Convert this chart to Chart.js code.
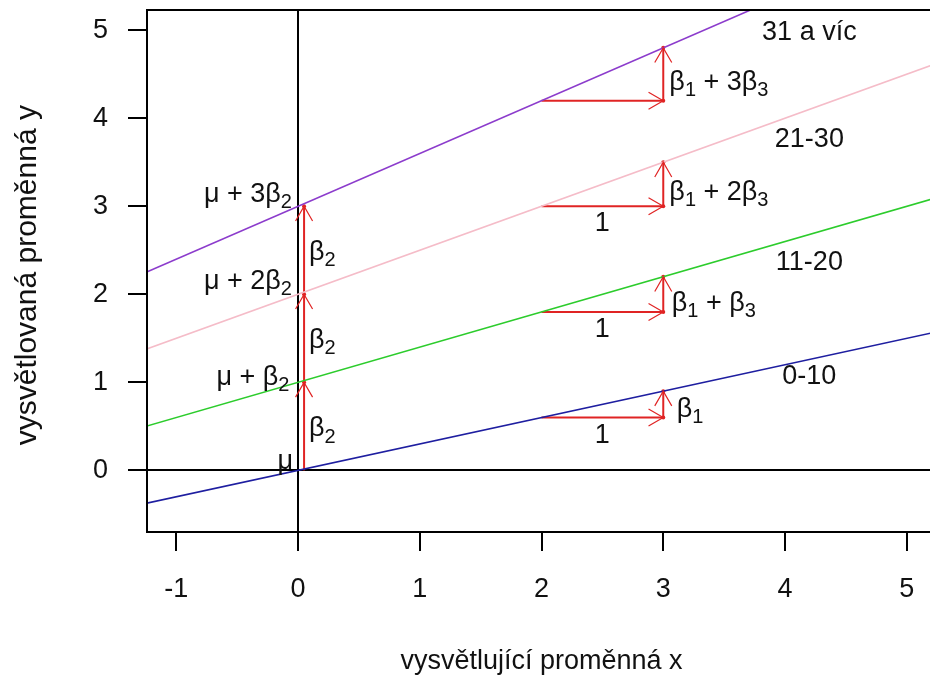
<!DOCTYPE html>
<html>
<head>
<meta charset="utf-8">
<script src="https://cdn.jsdelivr.net/npm/chart.js"></script>
<style>
  body { margin: 0; overflow: hidden; background: #fff; }
  #wrap { width: 940px; height: 675px; }
</style>
</head>
<body>
<div id="wrap"><canvas id="plot" width="940" height="675"></canvas></div>
<script>
// groups (regression lines): y = intercept + slope * x
const groups = ['0-10', '11-20', '21-30', '31 a víc'];
const intercepts = [0, 1, 2, 3];
const slopes = [0.3, 0.4, 0.5, 0.6];
const lineColors = ['#1e1ea0', '#2ccc2c', '#f5bcc8', '#8c3ccc'];
const groupLabelX = [4.2, 4.2, 4.2, 4.2];
const groupLabelY = [1.07, 2.36, 3.76, 4.97];

// axes
const xTicks = [-1, 0, 1, 2, 3, 4, 5];
const yTicks = [0, 1, 2, 3, 4, 5];
const xRange = [-1.24, 5.24];
const yRange = [-0.7, 5.23];

// red arrows: start -> end
const arrowX0 = [0.05, 0.05, 0.05, 2, 2, 2, 2, 3, 3, 3, 3];
const arrowY0 = [0, 1, 2, 0.6, 1.8, 3, 4.2, 0.6, 1.8, 3, 4.2];
const arrowX1 = [0.05, 0.05, 0.05, 3, 3, 3, 3, 3, 3, 3, 3];
const arrowY1 = [1, 2, 3, 0.6, 1.8, 3, 4.2, 0.9, 2.2, 3.5, 4.8];

// text annotations ("_" = next char is a subscript)
const noteText = ['μ', 'μ + β_2', 'μ + 2β_2', 'μ + 3β_2', 'β_2', 'β_2', 'β_2',
  '1', '1', '1', 'β_1', 'β_1 + β_3', 'β_1 + 2β_3', 'β_1 + 3β_3'];
const noteX = [-0.04, -0.07, -0.05, -0.05, 0.09, 0.09, 0.09, 2.5, 2.5, 2.5, 3.11, 3.07, 3.05, 3.05];
const noteY = [0.1, 1.05, 2.15, 3.13, 0.47, 1.47, 2.47, 0.4, 1.6, 2.8, 0.69, 1.9, 3.16, 4.41];
const noteAlign = ['right', 'right', 'right', 'right', 'left', 'left', 'left',
  'center', 'center', 'center', 'left', 'left', 'left', 'left'];

const FONT = '"Liberation Sans", Arial, sans-serif';
const red = '#e02424';

const datasets = [];
groups.forEach((g, i) => {
  datasets.push({
    label: g,
    data: [
      { x: -2, y: intercepts[i] - 2 * slopes[i] },
      { x: 6, y: intercepts[i] + 6 * slopes[i] }
    ],
    borderColor: lineColors[i],
    borderWidth: 1.6,
    pointRadius: 0
  });
});
arrowX0.forEach((x0, i) => {
  datasets.push({
    label: 'arrow' + i,
    arrow: true,
    data: [{ x: x0, y: arrowY0[i] }, { x: arrowX1[i], y: arrowY1[i] }],
    borderColor: red,
    borderWidth: 2,
    pointRadius: [0, 2],
    pointBackgroundColor: red,
    pointBorderWidth: 0
  });
});

function drawRich(ctx, text, x, y, align) {
  const parts = [];
  for (let i = 0; i < text.length; i++) {
    const last = parts[parts.length - 1];
    if (text[i] === '_') { parts.push({ t: text[i + 1], sub: true }); i++; }
    else if (last && !last.sub) last.t += text[i];
    else parts.push({ t: text[i], sub: false });
  }
  const main = '27px ' + FONT, sub = '20px ' + FONT;
  let total = 0;
  parts.forEach(p => { ctx.font = p.sub ? sub : main; p.w = ctx.measureText(p.t).width; total += p.w; });
  let cx = align === 'right' ? x - total : align === 'center' ? x - total / 2 : x;
  ctx.textAlign = 'left';
  ctx.textBaseline = 'middle';
  parts.forEach(p => {
    ctx.font = p.sub ? sub : main;
    ctx.fillText(p.t, cx, p.sub ? y + 8 : y);
    cx += p.w;
  });
}

const decor = {
  id: 'decor',
  afterDatasetsDraw(chart) {
    const ctx = chart.ctx;
    const xs = chart.scales.x, ys = chart.scales.y;
    ctx.save();
    // arrow heads
    chart.data.datasets.forEach((ds, i) => {
      if (!ds.arrow) return;
      const pts = chart.getDatasetMeta(i).data;
      const a = pts[0], b = pts[1];
      const ang = Math.atan2(b.y - a.y, b.x - a.x);
      const len = 17, spread = Math.PI / 6;
      ctx.strokeStyle = red;
      ctx.lineWidth = 1.2;
      ctx.beginPath();
      ctx.moveTo(b.x - len * Math.cos(ang - spread), b.y - len * Math.sin(ang - spread));
      ctx.lineTo(b.x, b.y);
      ctx.lineTo(b.x - len * Math.cos(ang + spread), b.y - len * Math.sin(ang + spread));
      ctx.stroke();
    });
    // labels
    ctx.fillStyle = '#111';
    noteText.forEach((t, i) => {
      drawRich(ctx, t, xs.getPixelForValue(noteX[i]), ys.getPixelForValue(noteY[i]), noteAlign[i]);
    });
    groups.forEach((g, i) => {
      drawRich(ctx, g, xs.getPixelForValue(groupLabelX[i]), ys.getPixelForValue(groupLabelY[i]), 'center');
    });
    // box
    const ca = chart.chartArea;
    ctx.strokeStyle = '#000';
    ctx.lineWidth = 2;
    ctx.strokeRect(ca.left, ca.top, ca.right - ca.left, ca.bottom - ca.top);
    ctx.restore();
  }
};

const zeroGrid = c => (c.tick && c.tick.value === 0 ? '#000' : 'rgba(0,0,0,0)');

new Chart(document.getElementById('plot'), {
  type: 'line',
  data: { datasets },
  options: {
    responsive: false,
    animation: false,
    devicePixelRatio: 1,
    layout: { padding: { top: 10, right: 3, bottom: 0, left: 0 } },
    plugins: { legend: { display: false }, tooltip: { enabled: false } },
    elements: { line: { tension: 0 } },
    scales: {
      x: {
        type: 'linear',
        min: xRange[0],
        max: xRange[1],
        afterBuildTicks: s => { s.ticks = xTicks.map(v => ({ value: v })); },
        afterFit: s => { s.height = 143; s.paddingLeft = 0; s.paddingRight = 0; },
        grid: { color: zeroGrid, tickColor: '#000', lineWidth: 2, tickLength: 19, drawOnChartArea: true },
        border: { display: true, color: '#000', width: 2 },
        ticks: { color: '#111', font: { family: FONT, size: 27 }, padding: 22, maxRotation: 0 },
        title: { display: true, text: 'vysvětlující proměnná x', color: '#111',
          font: { family: FONT, size: 27 }, padding: { top: 0, bottom: -3 } }
      },
      y: {
        type: 'linear',
        min: yRange[0],
        max: yRange[1],
        afterBuildTicks: s => { s.ticks = yTicks.map(v => ({ value: v })); },
        afterFit: s => { s.width = 147; s.paddingTop = 0; s.paddingBottom = 0; },
        grid: { color: zeroGrid, tickColor: '#000', lineWidth: 2, tickLength: 19, drawOnChartArea: true },
        border: { display: true, color: '#000', width: 2 },
        ticks: { color: '#111', font: { family: FONT, size: 27 }, padding: 20 },
        title: { display: true, text: 'vysvětlovaná proměnná y ', color: '#111',
          font: { family: FONT, size: 30 }, padding: { top: 10, bottom: 0 } }
      }
    }
  },
  plugins: [decor]
});
</script>
</body>
</html>
